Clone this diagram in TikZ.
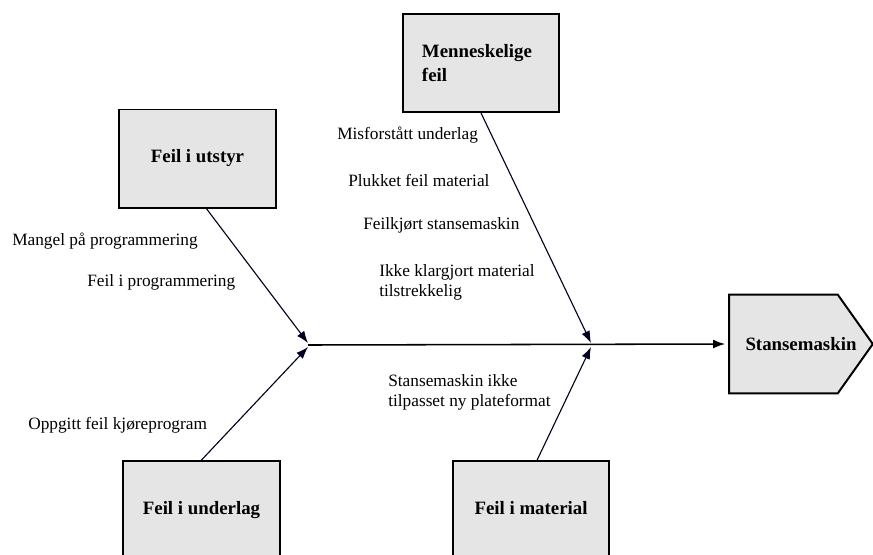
\documentclass[tikz,border=0pt]{standalone}
\usepackage{fontspec}
\setmainfont{Liberation Serif}
\usepackage{tikz}
\usetikzlibrary{positioning,arrows.meta}

\tikzset{
    cause/.style={draw, line width=1.4pt, fill=gray!20!white,
        minimum width=3.9cm, minimum height=2.45cm,
        font=\fontsize{13.4}{17.5}\selectfont\bfseries},
    oneline/.style={text height=1.6ex, text depth=0.3ex},
    reason/.style={anchor=west, inner sep=0pt, align=left,
        font=\fontsize{12.3}{14.4}\selectfont},
    bone/.style={-{Latex[length=0.3cm,width=0.22cm]}, line width=0.8pt, black!85!blue},
    spine/.style={-{Latex[length=0.3cm,width=0.22cm]}, line width=1.1pt}
}

\begin{document}
\begin{tikzpicture}[x=0.025cm, y=-0.025cm]
		\clip (0,0) rectangle (873,554);

		% cause boxes
		\node[cause, oneline] (utstyr) at (197.5,158.5) {Feil i utstyr};
		\node[cause, text width=2.95cm, inner xsep=0.475cm, align=left] (menneske) at (481,63) {Menneskelige\\feil};
		\node[cause, oneline] (underlag) at (201.5,510) {Feil i underlag};
		\node[cause, oneline] (material) at (531,510) {Feil i material};

		% effect
		\node[minimum width=3.575cm, minimum height=2.45cm] (stans) at (801,344) {};
		\draw[line width=1.4pt, fill=gray!20!white] (stans.north west)
		 -- ([xshift=-0.875cm]stans.north east) -- (stans.east)
		 -- ([xshift=-0.875cm]stans.south east) -- (stans.south west) -- cycle;
	    \node[font=\fontsize{13.4}{16}\selectfont\bfseries] (stanstext) at (stans.center) {Stansemaskin};

		\coordinate (j1) at (308,345);
		\coordinate (j2) at (591,345);

		% arrows
		\draw[spine] (j1) -- ([xshift=-0.1cm]stans.west);
		\draw[bone] (utstyr.-80) -- ([yshift=0.05cm]j1);
		\draw[bone] (underlag.north) -- ([yshift=-0.05cm]j1);
		\draw[bone] (menneske.south) -- ([yshift=0.05cm]j2);
		\draw[bone] (material.83) -- ([yshift=-0.05cm]j2);

		% reasons
		\node[reason] (mangel) at (12,241) {Mangel på programmering};
		\node[reason] (feilprog) at (87,282) {Feil i programmering};
		\node[reason] (oppgitt) at (28,425) {Oppgitt feil kjøreprogram};
		\node[reason] (misforst) at (337,135) {Misforstått underlag};
		\node[reason] (plukket) at (348,180) {Plukket feil material};
		\node[reason] (feilkj) at (363,225) {Feilkjørt stansemaskin};
		\node[reason] (klargj) at (379,282) {Ikke klargjort material\\tilstrekkelig};
		\node[reason] (tilpass) at (388,392.5) {Stansemaskin ikke\\tilpasset ny plateformat};
    \end{tikzpicture}
\end{document}
